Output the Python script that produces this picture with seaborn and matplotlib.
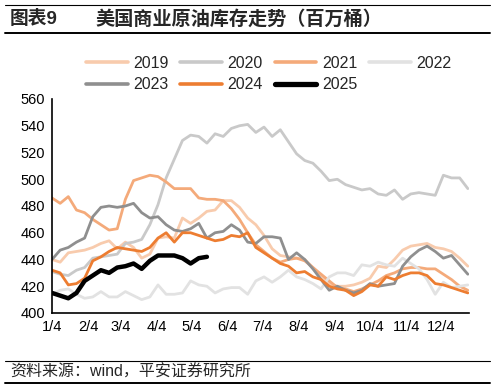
import pandas as pd
import seaborn as sns
import matplotlib
matplotlib.use('Agg')
import matplotlib.pyplot as plt
from matplotlib.lines import Line2D

# weekly commercial crude inventories (million barrels), week 0 = 1/4
y2019 = [440, 438, 445, 446, 447, 449, 452, 454, 448, 453, 449, 441, 444, 456, 457, 456,
         471, 467, 471, 476, 477, 484, 484, 479, 471, 466, 458, 448, 443, 442, 441, 440,
         434, 428, 422, 420, 420, 421, 423, 426, 435, 434, 440, 447, 450, 451, 452, 449,
         448, 446, 441, 435]
y2020 = [431, 429, 428, 432, 434, 441, 442, 443, 444, 452, 453, 455, 466, 481, 501, 515,
         529, 533, 532, 527, 534, 532, 538, 540, 541, 535, 539, 532, 537, 528, 519, 514,
         512, 506, 499, 500, 496, 494, 492, 493, 489, 488, 492, 485, 489, 490, 489, 488,
         503, 501, 501, 493]
y2021 = [486, 482, 487, 477, 475, 470, 466, 462, 463, 485, 499, 501, 503, 502, 498, 493,
         493, 493, 486, 485, 485, 484, 478, 470, 460, 451, 446, 441, 438, 440, 441, 439,
         434, 429, 424, 419, 418, 416, 418, 421, 424, 428, 430, 433, 434, 434, 433, 433,
         429, 425, 420, 417]
y2022 = [414, 417, 418, 414, 411, 412, 416, 412, 412, 416, 413, 410, 412, 421, 414, 414,
         415, 424, 421, 420, 415, 418, 419, 419, 414, 424, 427, 423, 427, 432, 427, 425,
         422, 418, 427, 430, 430, 428, 436, 435, 438, 436, 435, 441, 437, 433, 425, 414,
         423, 419, 420, 421]
y2023 = [440, 447, 449, 453, 456, 472, 479, 480, 479, 480, 482, 475, 471, 472, 466, 462,
         461, 463, 467, 456, 460, 461, 466, 462, 453, 452, 457, 457, 456, 440, 445, 440,
         433, 425, 417, 420, 417, 415, 417, 422, 420, 421, 422, 435, 442, 447, 450, 446,
         441, 443, 436, 429]
y2024 = [432, 430, 421, 422, 426, 439, 442, 446, 449, 448, 447, 446, 449, 456, 460, 453,
         460, 460, 458, 456, 454, 455, 458, 457, 460, 449, 445, 441, 437, 435, 430, 431,
         427, 425, 420, 418, 417, 413, 416, 421, 420, 427, 425, 428, 430, 430, 428, 422,
         421, 419, 417, 415]
y2025 = [415, 413, 411, 415, 424, 428, 432, 430, 434, 435, 437, 433, 439, 443, 443, 443,
         441, 437, 441, 442]

years = ['2019', '2020', '2021', '2022', '2023', '2024', '2025']
series = [y2019, y2020, y2021, y2022, y2023, y2024, y2025]
colors = ['#F8CBAD', '#C9C9C9', '#F4AA7A', '#E2E2E2', '#8F8F8F', '#ED7D31', '#000000']
widths = [2.0, 2.0, 2.0, 2.0, 2.0, 2.0, 3.2]

month_labels = ['1/4', '2/4', '3/4', '4/4', '5/4', '6/4', '7/4', '8/4', '9/4', '10/4', '11/4', '12/4']
month_days = [0, 31, 59, 90, 120, 151, 181, 212, 243, 273, 304, 334]

rows = []
for yr, vals in zip(years, series):
    for i, v in enumerate(vals):
        rows.append({'day': 7 * i, 'value': v, 'year': yr})
df = pd.DataFrame(rows)

sns.set_style('white')
plt.rcParams['font.family'] = ['Liberation Sans', 'Noto Sans CJK SC', 'DejaVu Sans']

fig = plt.figure(figsize=(4.95, 3.9), dpi=100)
ax = fig.add_axes([52 / 495, 1 - 313 / 390, 417 / 495, 214 / 390])

for yr, c, w in zip(years, colors, widths):
    sns.lineplot(data=df[df['year'] == yr], x='day', y='value', color=c,
                 linewidth=w, ax=ax, legend=False)

ax.set_xlim(0, 358)
ax.set_ylim(400, 560)
ax.set_yticks(range(400, 561, 20))
ax.set_xticks(month_days)
ax.set_xticklabels(month_labels)
ax.set_xlabel('')
ax.set_ylabel('')
ax.tick_params(axis='both', direction='in', length=4, width=1, colors='black',
               labelsize=10.5, pad=5)
sns.despine(ax=ax)
for s in ['left', 'bottom']:
    ax.spines[s].set_color('black')
    ax.spines[s].set_linewidth(1.2)

# legend filled column by column, so order it to read row by row
handles = [Line2D([0], [0], color=c, lw=w + 0.6) for c, w in zip(colors, widths)]
order = [0, 4, 1, 5, 2, 6, 3]
fig.legend([handles[i] for i in order], [years[i] for i in order],
           loc='upper left', bbox_to_anchor=(86 / 495, 1 - 56 / 390),
           ncol=4, frameon=False, fontsize=11.5, handlelength=2.6, handletextpad=0.35,
           columnspacing=0.75, labelspacing=0.4, borderpad=0, borderaxespad=0)

# title block and source block
fig.add_artist(Line2D([5 / 495, 490 / 495], [1 - 5 / 390, 1 - 5 / 390], color='black', lw=0.8))
fig.add_artist(Line2D([5 / 495, 490 / 495], [1 - 33 / 390, 1 - 33 / 390], color='black', lw=1.4))
fig.text(10 / 495, 1 - 19 / 390, '图表9', fontsize=13.5, fontweight='bold', va='center')
fig.text(95 / 495, 1 - 19 / 390, '美国商业原油库存走势（百万桶）', fontsize=13.8,
         fontweight='bold', va='center')

fig.add_artist(Line2D([5 / 495, 490 / 495], [1 - 361 / 390, 1 - 361 / 390], color='black', lw=0.8))
fig.add_artist(Line2D([5 / 495, 490 / 495], [1 - 383 / 390, 1 - 383 / 390], color='black', lw=1.4))
fig.text(10 / 495, 1 - 372 / 390, '资料来源：wind，平安证券研究所', fontsize=11.5, va='center')

fig.savefig('out.png', dpi=100)
